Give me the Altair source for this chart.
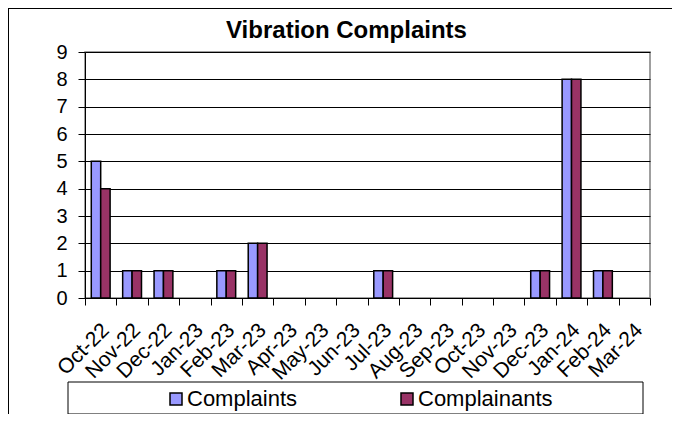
import altair as alt
import pandas as pd

months = ["Oct-22", "Nov-22", "Dec-22", "Jan-23", "Feb-23", "Mar-23", "Apr-23", "May-23",
          "Jun-23", "Jul-23", "Aug-23", "Sep-23", "Oct-23", "Nov-23", "Dec-23", "Jan-24",
          "Feb-24", "Mar-24"]
complaints = [5, 1, 1, 0, 1, 2, 0, 0, 0, 1, 0, 0, 0, 0, 1, 8, 1, 0]
complainants = [4, 1, 1, 0, 1, 2, 0, 0, 0, 1, 0, 0, 0, 0, 1, 8, 1, 0]
series = ["Complaints", "Complainants"]
colors = ["#9999FF", "#993366"]
y_ticks = list(range(0, 10))

rows = []
for m, a, b in zip(months, complaints, complainants):
    rows.append({"month": m, "series": series[0], "value": a})
    rows.append({"month": m, "series": series[1], "value": b})
df = pd.DataFrame(rows)

FONT = "Liberation Sans"

bars = alt.Chart(df).mark_bar(stroke="black", strokeWidth=1.5).encode(
    x=alt.X("month:N", sort=months,
            scale=alt.Scale(domain=months, paddingInner=0, paddingOuter=0),
            axis=alt.Axis(title=None, labelAngle=-45, labelFontSize=21, labelFont=FONT,
                          labelColor="black", tickBand="extent", tickSize=7,
                          tickColor="black", domainColor="black", grid=False,
                          labelPadding=14, labelOffset=-3)),
    xOffset=alt.XOffset("series:N", sort=series,
                        scale=alt.Scale(domain=series, paddingInner=0, paddingOuter=0.667)),
    y=alt.Y("value:Q", scale=alt.Scale(domain=[0, 9], nice=False),
            axis=alt.Axis(title=None, values=y_ticks, labelFontSize=20, labelFont=FONT,
                          labelColor="black", tickSize=7, tickColor="black",
                          domainColor="black", gridColor="black", gridOpacity=1,
                          labelPadding=11)),
    color=alt.Color("series:N", sort=series,
                    scale=alt.Scale(domain=series, range=colors),
                    legend=alt.Legend(title=None, orient="none", legendX=80, legendY=336,
                                      direction="horizontal", symbolType="square",
                                      symbolSize=144, symbolStrokeColor="black",
                                      symbolStrokeWidth=1.5, labelFontSize=22,
                                      labelFont=FONT, labelColor="black", labelOffset=0,
                                      columnPadding=98, padding=0)),
).transform_filter(alt.datum.value > 0)

one = alt.Data(values=[{"k": 1}])

legend_box = alt.Chart(one).mark_rect(fill="white", fillOpacity=0, stroke="black",
                                      strokeWidth=1).encode(
    x=alt.value(-17), x2=alt.value(558), y=alt.value(330), y2=alt.value(362))

frame_top = alt.Chart(one).mark_rule(color="black", strokeWidth=1).encode(
    x=alt.value(-77), x2=alt.value(587), y=alt.value(-43.5))
frame_left = alt.Chart(one).mark_rule(color="black", strokeWidth=1).encode(
    x=alt.value(-76.5), y=alt.value(-44), y2=alt.value(362))

chart = alt.layer(legend_box, bars, frame_top, frame_left).properties(
    width=565, height=246,
    padding={"left": 77, "top": 44, "right": 22, "bottom": 116},
    autosize=alt.AutoSizeParams(type="none"),
    title=alt.TitleParams("Vibration Complaints", font=FONT, fontSize=24,
                          fontWeight="bold", color="black", anchor="middle",
                          dx=-21, offset=-54, baseline="alphabetic"),
).configure_view(stroke="#808080", strokeWidth=1.5)

chart.save("out.html", embed_options={"renderer": "svg", "actions": False})
